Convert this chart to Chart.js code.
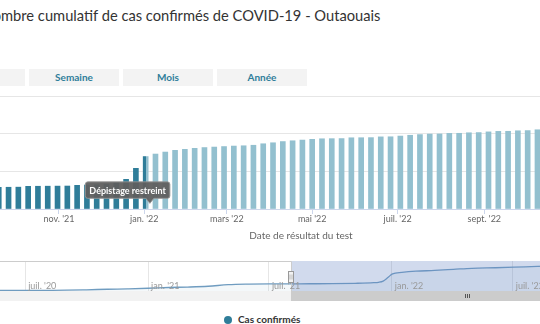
<!DOCTYPE html>
<html lang="fr">
<head>
<meta charset="utf-8">
<title>Nombre cumulatif de cas confirmés de COVID-19 - Outaouais</title>
<script src="https://cdn.jsdelivr.net/npm/chart.js@4.4.1/dist/chart.umd.min.js"></script>
<style>
  html, body { margin: 0; padding: 0; width: 540px; height: 324px; overflow: hidden; background: #fff; }
  body { font-family: Lato, "Open Sans", sans-serif; }
  #page { position: absolute; left: 0; top: 0; width: 540px; height: 324px; overflow: hidden; }
  #title { position: absolute; top: 7px; left: 0; white-space: nowrap; font-size: 14.7px; line-height: 17px; color: #333; }
  .range-btn { position: absolute; top: 69px; width: 90px; height: 17px; background: #f3f3f3;
               color: #2f7e9a; font-weight: bold; font-size: 10px; line-height: 17px; text-align: center; }
  #main { position: absolute; left: -100px; top: 90px; }
  #nav  { position: absolute; left: -100px; top: 255px; }
  #legend { position: absolute; top: 312px; left: 224px; height: 14px; white-space: nowrap;
            font-size: 10px; font-weight: bold; color: #333; line-height: 14px; }
  #legend .dot { display: inline-block; width: 8px; height: 8px; border-radius: 50%; vertical-align: -1px; margin-right: 6px; }
</style>
</head>
<body>
<div id="page">
  <div id="title"></div>
  <div id="buttons"></div>
  <canvas id="main" width="774" height="155"></canvas>
  <canvas id="nav" width="774" height="47"></canvas>
  <div id="legend"></div>
</div>
<script>
// ---- Data -------------------------------------------------------------
const chartTitle = 'Nombre cumulatif de cas confirmés de COVID-19 - Outaouais';
const rangeButtons = ['Jour', 'Semaine', 'Mois', 'Année'];
const seriesLabel = 'Cas confirmés';
const xAxisTitle = 'Date de résultat du test';

// weekly cumulative confirmed cases (week dates)
const weekDates = [
  '2021-09-19','2021-09-26','2021-10-03','2021-10-10','2021-10-17','2021-10-24','2021-10-31',
  '2021-11-07','2021-11-14','2021-11-21','2021-11-28','2021-12-05','2021-12-12','2021-12-19',
  '2021-12-26','2022-01-02','2022-01-09','2022-01-16','2022-01-23','2022-01-30','2022-02-06',
  '2022-02-13','2022-02-20','2022-02-27','2022-03-06','2022-03-13','2022-03-20','2022-03-27',
  '2022-04-03','2022-04-10','2022-04-17','2022-04-24','2022-05-01','2022-05-08','2022-05-15',
  '2022-05-22','2022-05-29','2022-06-05','2022-06-12','2022-06-19','2022-06-26','2022-07-03',
  '2022-07-10','2022-07-17','2022-07-24','2022-07-31','2022-08-07','2022-08-14','2022-08-21',
  '2022-08-28','2022-09-04','2022-09-11','2022-09-18','2022-09-25','2022-10-02','2022-10-09'
];
const cumulativeCases = [
  11500, 11550, 11600, 12040, 12080, 12120, 12160,
  12200, 12570, 12700, 12900, 13200, 13800, 15760,
  21590, 27850, 29180, 30240, 31140, 31670, 32200,
  32630, 32890, 33160, 33420, 33580, 33850, 34640,
  35170, 35810, 36230, 36600, 36980, 37290, 37350,
  37400, 37820, 37850, 37900, 38300, 38350, 38730,
  39150, 39520, 39790, 39850, 40160, 40200, 40480,
  40580, 40950, 41220, 41260, 41540, 41640, 42070
];

// overview series for the navigator
const navDates = [
  '2020-03-01','2020-03-15','2020-04-01','2020-05-01','2020-06-01','2020-07-01','2020-08-01',
  '2020-09-01','2020-10-01','2020-11-01','2020-12-01','2021-01-01','2021-02-01','2021-03-01',
  '2021-04-01','2021-05-01','2021-06-01','2021-07-01','2021-08-01','2021-09-01','2021-10-03',
  '2021-11-07','2021-12-05','2021-12-12','2021-12-19','2021-12-26','2022-01-02','2022-01-16',
  '2022-02-06','2022-03-06','2022-04-03','2022-05-01','2022-06-05','2022-07-03','2022-08-07',
  '2022-09-04','2022-10-09'
];
const navValues = [
  0, 10, 80, 300, 450, 550, 650,
  800, 1500, 2400, 3100, 4000, 5300, 6000,
  7300, 9900, 10900, 11300, 11400, 11450, 11600,
  12200, 13200, 13800, 15760, 21590, 27850, 30240,
  32200, 33420, 35170, 36980, 37850, 38730, 40160,
  40950, 42070
];

// axis ticks
const frMonths = ['jan.', 'févr.', 'mars', 'avr.', 'mai', 'juin', 'juil.', 'août', 'sept.', 'oct.', 'nov.', 'déc.'];
const mainTickDates = ['2021-09-01','2021-11-01','2022-01-01','2022-03-01','2022-05-01','2022-07-01','2022-09-01','2022-11-01','2023-01-01'];
const navTickDates = ['2020-07-01','2021-01-01','2021-07-01','2022-01-01','2022-07-01','2023-01-01'];
const yTicks = [0, 20000, 40000, 60000];

// visible window and overall range
const viewStart = '2021-08-03', viewEnd = '2023-01-11';
const navStart = '2020-02-14', navEnd = '2023-02-20';

// colour zone and annotation
const zoneDate = '2022-01-02';
const annotation = { text: 'Dépistage restreint', date: '2022-01-05', value: 3000 };

// ---- Helpers ------------------------------------------------------------
const DAY_MS = 86400000;
const toDay = s => Date.UTC(+s.slice(0, 4), +s.slice(5, 7) - 1, +s.slice(8, 10)) / DAY_MS;
const dayLabel = d => {
  const dt = new Date(d * DAY_MS);
  return frMonths[dt.getUTCMonth()] + " '" + String(dt.getUTCFullYear()).slice(2);
};

const DARK = '#2f7d99';
const LIGHT = '#93c0cf';
const FONT = 'Lato, "Open Sans", sans-serif';

Chart.defaults.font.family = FONT;
Chart.defaults.color = '#666';

// ---- Page header / buttons ------------------------------------------------
(function header() {
  const t = document.getElementById('title');
  t.textContent = chartTitle;
  const c = document.createElement('canvas').getContext('2d');
  c.font = '14.7px ' + FONT;
  t.style.left = (1 - c.measureText(chartTitle.slice(0, 2)).width) + 'px';

  const b = document.getElementById('buttons');
  rangeButtons.forEach((name, i) => {
    const el = document.createElement('div');
    el.className = 'range-btn';
    el.style.left = (-65 + i * 94) + 'px';
    el.textContent = name;
    b.appendChild(el);
  });
})();

// ---- Main column chart --------------------------------------------------
const annotationPlugin = {
  id: 'calloutLabel',
  afterDatasetsDraw(chart) {
    const { ctx, scales } = chart;
    const ax = scales.x.getPixelForValue(toDay(annotation.date));
    const ay = scales.y.getPixelForValue(annotation.value);
    ctx.save();
    ctx.font = 'bold 9px ' + FONT;
    const w = ctx.measureText(annotation.text).width + 8;
    const h = 16.5;
    const right = ax + 20, left = right - w;
    const bottom = ay - 5, top = bottom - h;
    const r = 2.5;
    ctx.beginPath();
    ctx.moveTo(left + r, top);
    ctx.lineTo(right - r, top);
    ctx.quadraticCurveTo(right, top, right, top + r);
    ctx.lineTo(right, bottom - r);
    ctx.quadraticCurveTo(right, bottom, right - r, bottom);
    ctx.lineTo(ax + 4, bottom);
    ctx.lineTo(ax, ay);
    ctx.lineTo(ax - 4, bottom);
    ctx.lineTo(left + r, bottom);
    ctx.quadraticCurveTo(left, bottom, left, bottom - r);
    ctx.lineTo(left, top + r);
    ctx.quadraticCurveTo(left, top, left + r, top);
    ctx.closePath();
    ctx.fillStyle = 'rgba(95,95,95,0.95)';
    ctx.fill();
    ctx.strokeStyle = 'rgba(150,150,150,0.9)';
    ctx.lineWidth = 1;
    ctx.stroke();
    ctx.fillStyle = '#fff';
    ctx.textAlign = 'center';
    ctx.textBaseline = 'middle';
    ctx.fillText(annotation.text, (left + right) / 2, (top + bottom) / 2 + 0.5);
    ctx.restore();
  }
};

let zoneGradient = null;
function barColor(ctx) {
  const chart = ctx.chart;
  const area = chart.chartArea;
  if (!area) return LIGHT;
  if (!zoneGradient) {
    const zx = chart.scales.x.getPixelForValue(toDay(zoneDate));
    const t = Math.min(1, Math.max(0, (zx - area.left) / (area.right - area.left)));
    zoneGradient = chart.ctx.createLinearGradient(area.left, 0, area.right, 0);
    zoneGradient.addColorStop(0, DARK);
    zoneGradient.addColorStop(t, DARK);
    zoneGradient.addColorStop(t, LIGHT);
    zoneGradient.addColorStop(1, LIGHT);
  }
  return zoneGradient;
}

const mainChart = new Chart(document.getElementById('main'), {
  type: 'bar',
  data: {
    datasets: [{
      label: seriesLabel,
      data: weekDates.map((d, i) => ({ x: toDay(d), y: cumulativeCases[i] })),
      backgroundColor: barColor,
      barThickness: 5,
      borderWidth: 0
    }]
  },
  options: {
    responsive: false,
    animation: false,
    devicePixelRatio: 1,
    layout: { padding: { top: 6, right: 5, left: 0, bottom: 0 } },
    plugins: { legend: { display: false }, tooltip: { enabled: false } },
    scales: {
      x: {
        type: 'linear',
        offset: false,
        min: toDay(viewStart),
        max: toDay(viewEnd),
        afterBuildTicks: s => { s.ticks = mainTickDates.map(d => ({ value: toDay(d) })); },
        afterFit: s => { s.height = 36; },
        ticks: {
          autoSkip: false, maxRotation: 0, padding: 0,
          color: '#666', font: { size: 9 },
          callback: v => dayLabel(v)
        },
        grid: { display: true, offset: false, drawOnChartArea: false, drawTicks: true, tickLength: 5, color: '#ccd6eb' },
        border: { display: true, color: '#ccd6eb' },
        title: { display: true, text: xAxisTitle, color: '#666', font: { size: 10 }, padding: { top: 0, bottom: 3 } }
      },
      y: {
        min: 0,
        max: yTicks[yTicks.length - 1],
        afterBuildTicks: s => { s.ticks = yTicks.map(v => ({ value: v })); },
        afterFit: s => { s.width = 33; },
        ticks: { display: false },
        grid: { color: '#e6e6e6', drawTicks: false },
        border: { display: false }
      }
    }
  },
  plugins: [annotationPlugin]
});

// ---- Navigator ------------------------------------------------------------
const navigatorPlugin = {
  id: 'navigatorDecor',
  afterDatasetsDraw(chart) {
    const { ctx, chartArea: a, scales } = chart;
    const x = scales.x;
    const s1 = x.getPixelForValue(mainChart.scales.x.min);
    const s2 = x.getPixelForValue(mainChart.scales.x.max);
    const sbTop = a.bottom, sbBottom = a.bottom + 10;
    ctx.save();

    // selected range mask
    ctx.fillStyle = 'rgba(102,133,194,0.3)';
    ctx.fillRect(s1, a.top, s2 - s1, a.bottom - a.top);

    // scrollbar track and thumb
    ctx.fillStyle = '#f2f2f2';
    ctx.fillRect(a.left, sbTop, a.right - a.left, sbBottom - sbTop);
    ctx.fillStyle = '#cccccc';
    ctx.fillRect(s1, sbTop, s2 - s1, sbBottom - sbTop);
    const gc = (s1 + s2) / 2;
    ctx.strokeStyle = '#555';
    ctx.lineWidth = 1;
    ctx.beginPath();
    [-2, 0, 2].forEach(o => {
      ctx.moveTo(Math.round(gc + o) + 0.5, sbTop + 3);
      ctx.lineTo(Math.round(gc + o) + 0.5, sbBottom - 3);
    });
    ctx.stroke();

    // outline
    ctx.strokeStyle = '#cccccc';
    ctx.beginPath();
    ctx.moveTo(a.left, a.top + 0.5);
    ctx.lineTo(Math.round(s1) + 0.5, a.top + 0.5);
    ctx.lineTo(Math.round(s1) + 0.5, sbBottom - 0.5);
    ctx.lineTo(Math.round(s2) - 0.5, sbBottom - 0.5);
    ctx.lineTo(Math.round(s2) - 0.5, a.top + 0.5);
    ctx.lineTo(a.right, a.top + 0.5);
    ctx.stroke();

    // tick labels inside the navigator
    ctx.fillStyle = '#999';
    ctx.font = '9px ' + FONT;
    ctx.textAlign = 'left';
    ctx.textBaseline = 'middle';
    navTickDates.forEach(d => {
      const px = x.getPixelForValue(toDay(d));
      ctx.fillText(dayLabel(toDay(d)), px + 3, a.bottom - 5);
    });

    // handles
    [s1, s2].forEach(hx => {
      const cy = (a.top + a.bottom) / 2;
      const hx0 = Math.round(hx) - 2.5, hy0 = Math.round(cy - 5.5) + 0.5;
      ctx.fillStyle = '#f2f2f2';
      ctx.strokeStyle = '#999';
      ctx.fillRect(hx0, hy0, 5, 11);
      ctx.strokeRect(hx0, hy0, 5, 11);
      ctx.beginPath();
      ctx.moveTo(hx0 + 1.5, hy0 + 3); ctx.lineTo(hx0 + 1.5, hy0 + 8);
      ctx.moveTo(hx0 + 3.5, hy0 + 3); ctx.lineTo(hx0 + 3.5, hy0 + 8);
      ctx.strokeStyle = '#bbb';
      ctx.stroke();
    });
    ctx.restore();
  }
};

new Chart(document.getElementById('nav'), {
  type: 'line',
  data: {
    datasets: [{
      label: seriesLabel,
      data: navDates.map((d, i) => ({ x: toDay(d), y: navValues[i] })),
      borderColor: '#6f9cc0',
      borderWidth: 1.3,
      backgroundColor: 'rgba(47,125,153,0.05)',
      fill: 'start',
      pointRadius: 0,
      cubicInterpolationMode: 'monotone'
    }]
  },
  options: {
    responsive: false,
    animation: false,
    devicePixelRatio: 1,
    layout: { padding: { top: 6, right: 5, left: 33, bottom: 11 } },
    plugins: { legend: { display: false }, tooltip: { enabled: false } },
    scales: {
      x: {
        type: 'linear',
        min: toDay(navStart),
        max: toDay(navEnd),
        afterBuildTicks: s => { s.ticks = navTickDates.map(d => ({ value: toDay(d) })); },
        afterFit: s => { s.height = 0; },
        ticks: { display: false },
        grid: { color: '#e6e6e6', drawTicks: false },
        border: { display: false }
      },
      y: { display: false, min: -500, max: 49000 }
    }
  },
  plugins: [navigatorPlugin]
});

// ---- Legend -------------------------------------------------------------
(function legend() {
  const host = document.getElementById('legend');
  mainChart.data.datasets.forEach(ds => {
    const dot = document.createElement('span');
    dot.className = 'dot';
    dot.style.background = DARK;
    host.appendChild(dot);
    host.appendChild(document.createTextNode(ds.label));
  });
})();
</script>
</body>
</html>
